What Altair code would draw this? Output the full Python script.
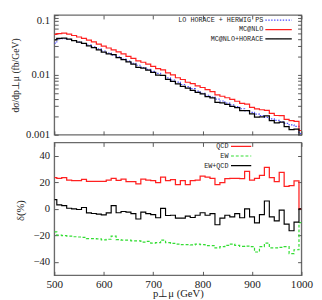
import altair as alt
import pandas as pd

# bin positions (GeV)
pt = list(range(500, 1001, 10))

top_names = ["LO HORACE + HERWIG PS", "MC@NLO", "MC@NLO+HORACE"]
lo = [0.0341, 0.0398, 0.0403, 0.0394, 0.0376, 0.0355, 0.0335, 0.0316, 0.0295, 0.0272,
      0.0251, 0.0232, 0.0214, 0.0200, 0.0184, 0.0170, 0.0157, 0.0145, 0.0133, 0.0124,
      0.0115, 0.0106, 0.00977, 0.00891, 0.00822, 0.00759, 0.00692, 0.00638, 0.00589, 0.00537,
      0.00495, 0.00457, 0.00427, 0.00394, 0.00367, 0.00339, 0.00316, 0.00295, 0.00272, 0.00254,
      0.00237, 0.00221, 0.00209, 0.00195, 0.00184, 0.00174, 0.00164, 0.00155, 0.00146, 0.00138,
      0.00105]
mcnlo = [0.0475, 0.0489, 0.0498, 0.0479, 0.0456, 0.0430, 0.0409, 0.0381, 0.0356, 0.0328,
         0.0303, 0.0282, 0.0263, 0.0243, 0.0225, 0.0205, 0.0189, 0.0172, 0.0163, 0.0151,
         0.0139, 0.0127, 0.0121, 0.0108, 0.0100, 0.00898, 0.00839, 0.00755, 0.00714, 0.00654,
         0.00617, 0.00567, 0.00525, 0.00466, 0.00440, 0.00416, 0.00389, 0.00363, 0.00334, 0.00326,
         0.00288, 0.00272, 0.00262, 0.00256, 0.00227, 0.00210, 0.00209, 0.00181, 0.00172, 0.00167,
         0.00118]
mcnlo_horace = [0.0385, 0.0410, 0.0413, 0.0396, 0.0376, 0.0353, 0.0338, 0.0307, 0.0285, 0.0261,
                0.0240, 0.0225, 0.0219, 0.0194, 0.0180, 0.0166, 0.0151, 0.0134, 0.0130, 0.0120,
                0.0110, 0.00989, 0.00981, 0.00846, 0.00783, 0.00706, 0.00644, 0.00603, 0.00551, 0.00511,
                0.00481, 0.00435, 0.00412, 0.00347, 0.00341, 0.00323, 0.00297, 0.00284, 0.00254, 0.00254,
                0.00223, 0.00198, 0.00200, 0.00207, 0.00173, 0.00158, 0.00162, 0.00137, 0.00122, 0.00124,
                0.0009]

bot_names = ["QCD", "EW", "EW+QCD"]
qcd = [23.6, 22.9, 23.6, 21.7, 21.2, 21.2, 22.2, 20.7, 20.7, 20.7,
       20.7, 21.7, 22.9, 21.5, 22.4, 20.5, 20.5, 18.8, 22.4, 21.7,
       21.2, 19.8, 24.0, 21.2, 22.0, 18.3, 21.2, 18.3, 21.2, 21.7,
       24.6, 24.0, 22.9, 18.3, 19.8, 22.7, 23.0, 22.9, 22.7, 28.2,
       21.7, 22.9, 25.3, 31.3, 23.6, 20.5, 27.5, 16.9, 17.6, 21.0,
       0.0]
ew = [-17.3, -19.8, -20.2, -20.5, -21.0, -21.2, -21.5, -22.4, -22.4, -22.6,
      -23.4, -22.9, -20.5, -23.2, -23.6, -23.6, -24.1, -24.1, -25.0, -24.5,
      -25.8, -25.5, -23.5, -25.5, -26.0, -26.5, -27.0, -27.0, -27.2, -26.5,
      -27.0, -27.7, -27.7, -29.4, -28.5, -27.5, -26.5, -27.5, -28.2, -28.0,
      -28.5, -32.5, -28.5, -25.8, -29.4, -29.4, -29.0, -28.5, -33.7, -30.8,
      -10.4]
ewqcd = [7.0, 3.0, 2.5, 0.5, 0.0, -0.5, 1.0, -3.0, -3.5, -4.0,
         -4.5, -3.0, 2.5, -2.9, -2.0, -2.5, -3.6, -7.6, -2.4, -3.6,
         -4.3, -6.7, 0.4, -5.0, -4.8, -7.0, -7.0, -5.5, -6.5, -4.8,
         -2.9, -4.8, -3.6, -12.0, -7.0, -4.8, -6.0, -3.6, -6.7, 0.0,
         -6.0, -10.5, -4.3, 5.9, -6.0, -9.0, -1.0, -11.5, -16.5, -10.0,
         0.0]

x_ticks = [500, 600, 700, 800, 900, 1000]
ytop_labels = [0.001, 0.01, 0.1]
ytop_ticks = [m * d for d in (0.001, 0.01) for m in range(1, 10)] + [0.1]
ybot_ticks = [-40, -20, 0, 20, 40]

n = len(pt)
top_df = pd.DataFrame({
    "pt": pt * 3,
    "value": lo + mcnlo + mcnlo_horace,
    "series": [top_names[0]] * n + [top_names[1]] * n + [top_names[2]] * n,
})
bot_df = pd.DataFrame({
    "pt": pt * 3,
    "value": qcd + ew + ewqcd,
    "series": [bot_names[0]] * n + [bot_names[1]] * n + [bot_names[2]] * n,
})

SERIF = "Liberation Serif"
MONO = "Liberation Mono"
TXT = "#222222"
TICK = "#555555"
W = 256
H_TOP = 124
H_BOT = 137.5
TL = 4

x_scale = alt.Scale(domain=[500, 1000], nice=False, zero=False)
ytop_scale = alt.Scale(type="log", domain=[0.001, 0.1], nice=False)
ybot_scale = alt.Scale(domain=[-50, 50], nice=False, zero=False)


def legend(x, y, size, offset, rowpad):
    return alt.Legend(title=None, orient="none", legendX=x, legendY=y,
                      symbolType="M-5,0H5", symbolSize=size, labelAlign="right",
                      labelOffset=alt.ExprRef(expr=str(offset)), labelFont=MONO, labelFontSize=7,
                      labelColor=TXT, rowPadding=rowpad, padding=0)


def tick_layers(df, yscale, yvals):
    inner_a = alt.Chart(df).mark_line(opacity=0).encode(
        x=alt.X("pt:Q", scale=x_scale, axis=alt.Axis(orient="bottom", offset=-TL, tickSize=TL,
                values=x_ticks, labels=False, domain=False, grid=False, title=None, tickColor=TICK)),
        y=alt.Y("value:Q", scale=yscale, axis=alt.Axis(orient="left", offset=-TL, tickSize=TL,
                values=yvals, labels=False, domain=False, grid=False, title=None, tickColor=TICK)),
    )
    inner_b = alt.Chart(df).mark_line(opacity=0).encode(
        x=alt.X("pt:Q", scale=x_scale, axis=alt.Axis(orient="top", offset=-TL, tickSize=TL,
                values=x_ticks, labels=False, domain=False, grid=False, title=None, tickColor=TICK)),
        y=alt.Y("value:Q", scale=yscale, axis=alt.Axis(orient="right", offset=-TL, tickSize=TL,
                values=yvals, labels=False, domain=False, grid=False, title=None, tickColor=TICK)),
    )
    return inner_a, inner_b


top_leg = legend(228.8, 1.8, 30, -19.3, 1.7)
top_main = alt.Chart(top_df).mark_line(interpolate="step", clip=True).encode(
    x=alt.X("pt:Q", scale=x_scale, axis=alt.Axis(orient="bottom", labels=False, ticks=False,
            domain=False, grid=False, title=None)),
    y=alt.Y("value:Q", scale=ytop_scale, axis=alt.Axis(
        orient="left", values=ytop_labels, format="~g", ticks=False, domain=False, grid=False,
        labelFont=SERIF, labelFontSize=11, labelColor=TXT, labelPadding=5, labelFlush=False,
        labelBaseline={"condition": {"test": "datum.value > 0.05", "value": "top"}, "value": "middle"},
        title="dσ/dp⊥μ (fb/GeV)", titleFont=SERIF, titleFontSize=10, titleFontWeight="normal",
        titleColor=TXT, titleX=-40, titleY=62, titleAngle=-90, titleBaseline="middle", titleAlign="center")),
    color=alt.Color("series:N", scale=alt.Scale(domain=top_names, range=["#4d4dff", "#ff2020", "#000000"]), legend=top_leg),
    strokeDash=alt.StrokeDash("series:N", scale=alt.Scale(domain=top_names, range=[[1.5, 1.5], [1, 0], [1, 0]]), legend=top_leg),
    strokeWidth=alt.StrokeWidth("series:N", scale=alt.Scale(domain=top_names, range=[1.2, 1.3, 2.0]), legend=top_leg),
)
ta, tb = tick_layers(top_df, ytop_scale, ytop_ticks)
top = alt.layer(top_main, ta, tb).resolve_axis(x="independent", y="independent").properties(width=W, height=H_TOP)

bot_leg = legend(190, 0.5, 17.6, -16.6, 2.0)
bot_main = alt.Chart(bot_df).mark_line(interpolate="step", clip=True).encode(
    x=alt.X("pt:Q", scale=x_scale, axis=alt.Axis(
        orient="bottom", values=x_ticks, format="d", ticks=False, domain=False, grid=False,
        labelFont=SERIF, labelFontSize=11.5, labelColor=TXT, labelPadding=4, labelFlush=False,
        title="p⊥μ  (GeV)", titleFont=SERIF, titleFontSize=11, titleFontWeight="normal",
        titleColor=TXT, titleY=19.5, titleBaseline="middle")),
    y=alt.Y("value:Q", scale=ybot_scale, axis=alt.Axis(
        orient="left", values=ybot_ticks, ticks=False, domain=False, grid=False,
        labelFont=SERIF, labelFontSize=11, labelColor=TXT, labelPadding=5, labelFlush=False,
        title="δ(%)", titleFont=SERIF, titleFontSize=11, titleFontWeight="normal",
        titleColor=TXT, titleX=-35, titleY=70, titleAngle=-90, titleBaseline="middle", titleAlign="center")),
    color=alt.Color("series:N", scale=alt.Scale(domain=bot_names, range=["#ff2020", "#33dd33", "#000000"]), legend=bot_leg),
    strokeDash=alt.StrokeDash("series:N", scale=alt.Scale(domain=bot_names, range=[[1, 0], [3, 2], [1, 0]]), legend=bot_leg),
    strokeWidth=alt.StrokeWidth("series:N", scale=alt.Scale(domain=bot_names, range=[1.3, 1.2, 2.0]), legend=bot_leg),
)
ba, bb = tick_layers(bot_df, ybot_scale, ybot_ticks)
bottom = alt.layer(bot_main, ba, bb).resolve_axis(x="independent", y="independent").properties(width=W, height=H_BOT)

chart = alt.vconcat(top, bottom, spacing=0).resolve_scale(
    color="independent", strokeDash="independent", strokeWidth="independent"
).properties(
    padding={"left": 2, "top": 0, "right": 0, "bottom": 0},
).configure_view(stroke="#6a6a6a", strokeWidth=1.4)

chart.save("out.html", embed_options={"renderer": "svg", "actions": False})
